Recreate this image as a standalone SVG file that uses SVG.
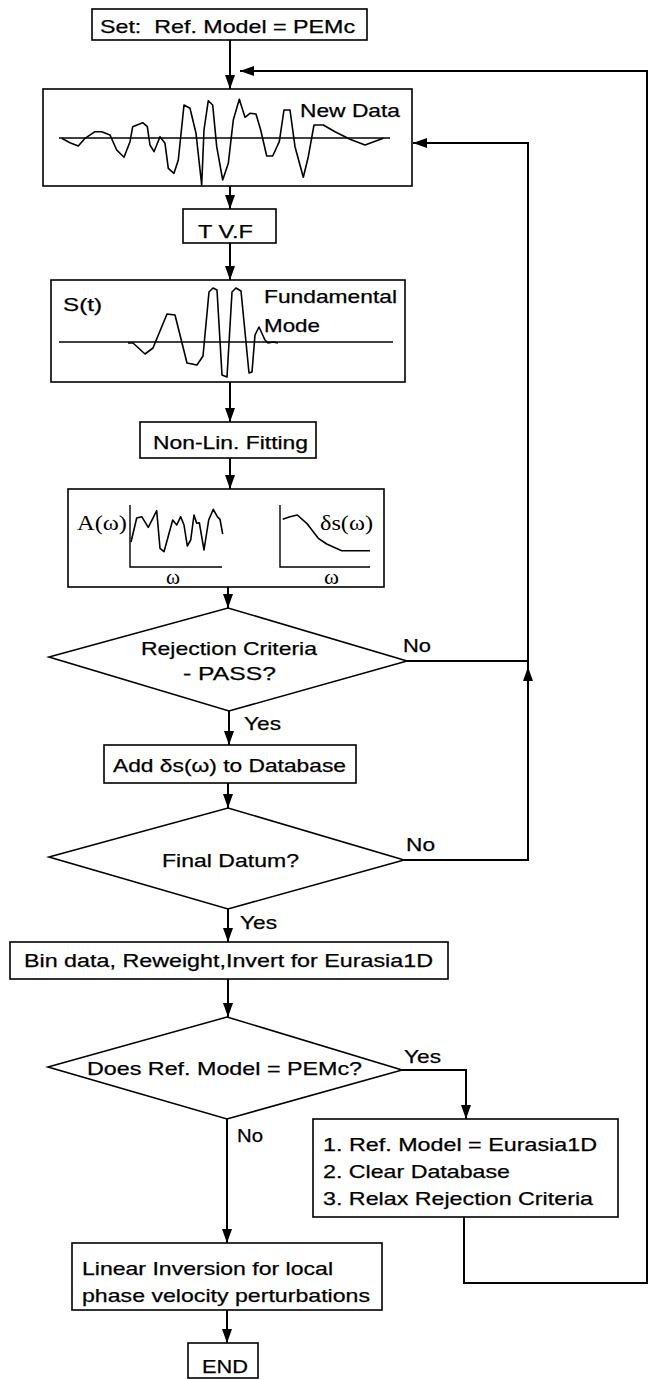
<svg xmlns="http://www.w3.org/2000/svg" width="651" height="1380" viewBox="0 0 651 1380">
<style>
.bx{fill:#fff;stroke:#000;stroke-width:1.6}
.dm{fill:#fff;stroke:#000;stroke-width:1.6}
.ln{fill:none;stroke:#000;stroke-width:2}
.wv{fill:none;stroke:#000;stroke-width:1.6;stroke-linejoin:round}
.ax{fill:none;stroke:#000;stroke-width:1.4}
.t{font-family:"Liberation Sans",Arial,Helvetica,sans-serif;font-size:19px;fill:#000;stroke:#000;stroke-width:0.25}
.s{font-family:"Liberation Serif","Times New Roman",serif;font-size:21px;fill:#000}
</style>
<defs>
<marker id="ah" markerUnits="userSpaceOnUse" markerWidth="15" markerHeight="11" refX="14" refY="5" orient="auto">
<path d="M0,0 L14,5 L0,10 z" fill="#000"/>
</marker>
</defs>
<rect width="651" height="1380" fill="#fff"/>

<g id="connectors">
<path class="ln" d="M230,40 V89" marker-end="url(#ah)"/>
<path class="ln" d="M464,1217 V1283 H647 V71 H240" marker-end="url(#ah)"/>
<path class="ln" d="M230,186 V209" marker-end="url(#ah)"/>
<path class="ln" d="M230,243 V280" marker-end="url(#ah)"/>
<path class="ln" d="M230,382 V422" marker-end="url(#ah)"/>
<path class="ln" d="M230,458 V489" marker-end="url(#ah)"/>
<path class="ln" d="M228,587 V608" marker-end="url(#ah)"/>
<path class="ln" d="M407,661 H528"/>
<path class="ln" d="M404,860 H528 V667" marker-end="url(#ah)"/>
<path class="ln" d="M528,672 V143 H413" marker-end="url(#ah)"/>
<path class="ln" d="M229,711 V745" marker-end="url(#ah)"/>
<path class="ln" d="M228,783 V808" marker-end="url(#ah)"/>
<path class="ln" d="M228,909 V942" marker-end="url(#ah)"/>
<path class="ln" d="M228,979 V1017" marker-end="url(#ah)"/>
<path class="ln" d="M402,1070 H466 V1119" marker-end="url(#ah)"/>
<path class="ln" d="M227,1119 V1243" marker-end="url(#ah)"/>
<path class="ln" d="M227,1310 V1343" marker-end="url(#ah)"/>
<text class="t" x="403" y="652" textLength="28" lengthAdjust="spacingAndGlyphs">No</text>
<text class="t" x="244" y="730" textLength="37" lengthAdjust="spacingAndGlyphs">Yes</text>
<text class="t" x="406" y="851" textLength="29" lengthAdjust="spacingAndGlyphs">No</text>
<text class="t" x="240" y="929" textLength="37" lengthAdjust="spacingAndGlyphs">Yes</text>
<text class="t" x="404" y="1063" textLength="37" lengthAdjust="spacingAndGlyphs">Yes</text>
<text class="t" x="237" y="1142" textLength="26" lengthAdjust="spacingAndGlyphs">No</text>
</g>

<g id="set-ref">
<rect class="bx" x="92" y="9" width="275" height="31"/>
<text class="t" x="100" y="33" textLength="255" lengthAdjust="spacingAndGlyphs" xml:space="preserve">Set:  Ref. Model = PEMc</text>
</g>

<g id="new-data">
<rect class="bx" x="43" y="89" width="369" height="97"/>
<line class="ax" x1="59" y1="138" x2="390" y2="138"/>
<polyline class="wv" points="61.7,138.3 70,142.7 78.3,146 85,138.3 95,131.7 101.7,131.7 110,135 116.7,150 124,157.3 130,141.7 132.7,126.7 142.7,122.7 147.3,126.7 150,145 154,151.7 160,136.7 165,143.3 168.3,168.3 174,173.3 178.3,160 184,105 190,108.3 196,133.3 201.7,185 204,130 208.3,100.7 212.7,105 216.7,146.7 222.7,180 228.3,163.3 233.3,120 239.3,99.3 245,117.3 250,113.3 256,114 260.7,130 266.7,156 272.7,156 279.3,141.7 284,110 290,110 295,146.7 303.3,177.3 308.3,156.7 314,125 323.3,125 335,131.7 350,139.3 365,145 383.3,138.3"/>
<text class="t" x="300" y="117" textLength="100" lengthAdjust="spacingAndGlyphs">New Data</text>
</g>

<g id="tvf">
<rect class="bx" x="183" y="209" width="93" height="34"/>
<text class="t" x="198" y="238" textLength="55" lengthAdjust="spacingAndGlyphs" xml:space="preserve">T V.F</text>
</g>

<g id="fundamental">
<rect class="bx" x="51" y="280" width="354" height="102"/>
<line class="ax" x1="59" y1="342" x2="393" y2="342"/>
<polyline class="wv" points="128,343 133,343 145,354 153,348 167,314 175,315 187,363 197,365 203,356 209,292 213,288 217,290 222,375 227,377 232,292 236,288 241,291 249,373 252,372 255,335 259,327 265,340 268,343 273,342 278,343"/>
<text class="t" x="63" y="311" textLength="39" lengthAdjust="spacingAndGlyphs">S(t)</text>
<text class="t" x="264" y="303" textLength="133" lengthAdjust="spacingAndGlyphs">Fundamental</text>
<text class="t" x="264" y="332" textLength="56" lengthAdjust="spacingAndGlyphs">Mode</text>
</g>

<g id="nonlin">
<rect class="bx" x="140" y="422" width="176" height="36"/>
<text class="t" x="153" y="449" textLength="155" lengthAdjust="spacingAndGlyphs">Non-Lin. Fitting</text>
</g>

<g id="spectra">
<rect class="bx" x="68" y="489" width="316" height="98"/>
<path class="ax" d="M130,505 V567 H222"/>
<polyline class="wv" points="131,542 136.7,518 141.7,516.7 148.3,527.3 156.7,510.7 160,548.3 164,551.7 172.7,520 176.7,525 180.7,516.7 184,525 187.3,546 190.7,540 194,515 196.7,523.3 199.3,522.7 204,550 208.7,520 213.3,509.3 217.3,516.7 220,519.3 222.7,534"/>
<path class="ax" d="M280,505 V567 H370"/>
<polyline class="wv" points="282.7,519.3 290,516.7 297.3,515 306.7,523.3 318.3,538.3 326.7,544 341.7,550.7 370,550.7"/>
<text class="s" x="77" y="530" textLength="50" lengthAdjust="spacingAndGlyphs">A(ω)</text>
<text class="s" x="320" y="530" textLength="53" lengthAdjust="spacingAndGlyphs">δs(ω)</text>
<text class="s" x="166" y="584" textLength="14" lengthAdjust="spacingAndGlyphs">ω</text>
<text class="s" x="324" y="584" textLength="15" lengthAdjust="spacingAndGlyphs">ω</text>
</g>

<g id="rejection">
<polygon class="dm" points="228,608 407,661 229,711 49,657"/>
<text class="t" x="141" y="655" textLength="176" lengthAdjust="spacingAndGlyphs">Rejection Criteria</text>
<text class="t" x="183" y="680" textLength="93" lengthAdjust="spacingAndGlyphs">- PASS?</text>
</g>

<g id="add-db">
<rect class="bx" x="104" y="745" width="252" height="38"/>
<text class="t" x="113" y="772" textLength="233" lengthAdjust="spacingAndGlyphs">Add δs(ω) to Database</text>
</g>

<g id="final-datum">
<polygon class="dm" points="228,808 404,860 228,909 49,857"/>
<text class="t" x="162" y="867" textLength="137" lengthAdjust="spacingAndGlyphs">Final Datum?</text>
</g>

<g id="bin-data">
<rect class="bx" x="10" y="942" width="438" height="37"/>
<text class="t" x="24" y="967" textLength="409" lengthAdjust="spacingAndGlyphs">Bin data, Reweight,Invert for Eurasia1D</text>
</g>

<g id="does-ref">
<polygon class="dm" points="227,1017 402,1070 227,1119 48,1067"/>
<text class="t" x="87" y="1075" textLength="275" lengthAdjust="spacingAndGlyphs">Does Ref. Model = PEMc?</text>
</g>

<g id="reset">
<rect class="bx" x="313" y="1119" width="305" height="98"/>
<text class="t" x="323" y="1151" textLength="274" lengthAdjust="spacingAndGlyphs">1. Ref. Model = Eurasia1D</text>
<text class="t" x="323" y="1178" textLength="187" lengthAdjust="spacingAndGlyphs">2. Clear Database</text>
<text class="t" x="323" y="1205" textLength="270" lengthAdjust="spacingAndGlyphs">3. Relax Rejection Criteria</text>
</g>

<g id="linear-inversion">
<rect class="bx" x="72" y="1243" width="310" height="67"/>
<text class="t" x="82" y="1275" textLength="251" lengthAdjust="spacingAndGlyphs">Linear Inversion for local</text>
<text class="t" x="82" y="1302" textLength="288" lengthAdjust="spacingAndGlyphs">phase velocity perturbations</text>
</g>

<g id="end">
<rect class="bx" x="188" y="1343" width="70" height="35"/>
<text class="t" x="202" y="1373" textLength="46" lengthAdjust="spacingAndGlyphs">END</text>
</g>
</svg>
